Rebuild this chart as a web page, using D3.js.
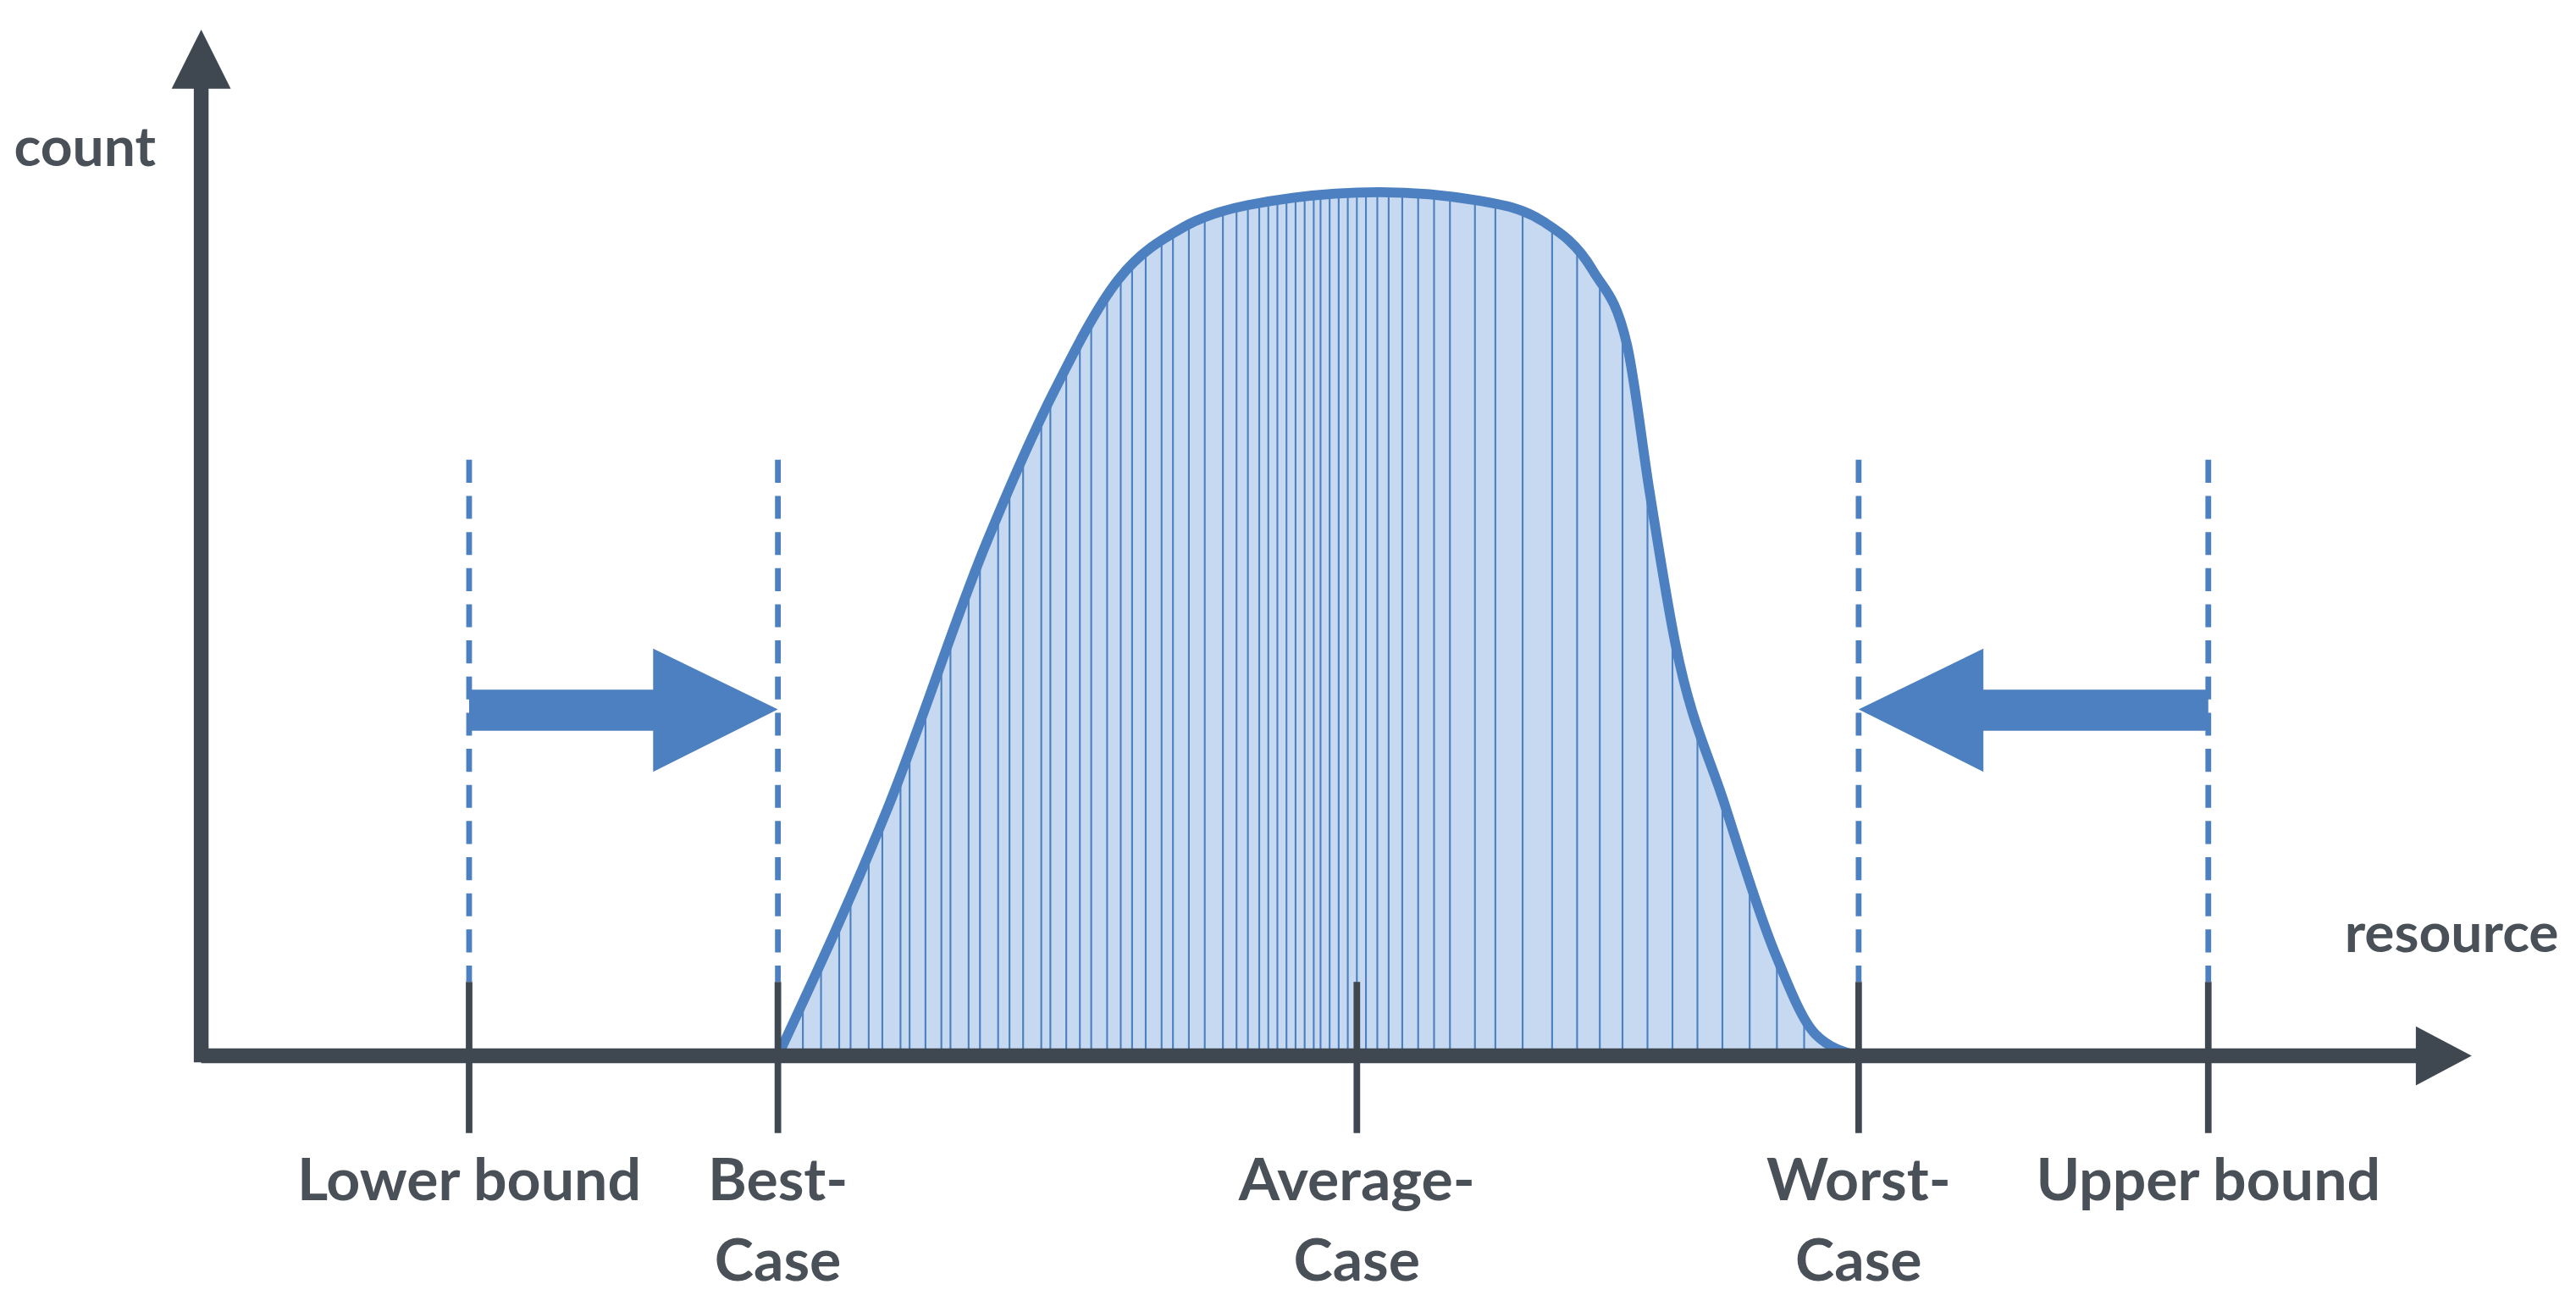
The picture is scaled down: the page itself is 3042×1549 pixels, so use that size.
<!DOCTYPE html>
<html><head><meta charset="utf-8">
<script src="https://cdn.jsdelivr.net/npm/d3@7"></script>
<style>html,body{margin:0;background:#fff;overflow:hidden}</style>
</head><body>
<script>
// resource positions (0-100) and counts (0-100)
const curveX = [25.4,30.3,34.6,37.5,40.4,43.3,46.1,51.9,56.3,59.1,61.3,62.8,63.8,64.9,67.1,69.3,71.1,73.0];
const curveY = [0,29.1,59.5,76.6,89.9,96,98.5,100,99,96.6,90.9,82.3,65.2,48.1,29.1,12,2.5,0];
const tickNames = [["Lower bound"],["Best-","Case"],["Average-","Case"],["Worst-","Case"],["Upper bound"]];
const tickPos = [11.8,25.4,50.9,73.0,88.4];
const boundPos = [11.8,25.4,73.0,88.4];
const hatchPos = [26.5,27.3,28.1,28.6,29.4,30.0,30.8,31.2,31.9,32.6,33.0,33.8,34.3,35.1,35.6,36.2,37.0,37.4,38.1,38.7,39.2,39.9,40.5,41.0,41.6,42.3,42.8,43.5,44.2,45.0,45.6,46.1,46.6,47.0,47.4,47.8,48.2,48.6,49.0,49.3,49.7,50.1,50.5,50.9,51.3,51.8,52.3,52.9,53.6,54.3,55.0,56.1,57.0,58.2,59.5,60.6,61.6,62.6,63.7,64.8,65.9,67.0,68.2,69.4,70.6];
const arrowRight = {from:11.8,to:25.4};
const arrowLeft = {from:88.4,to:73.0};

const W=1568,H=799;
const svg=d3.select("body").append("svg").attr("width",3042).attr("height",1549).attr("viewBox",`0 0 ${W} ${H}`);
const x=d3.scaleLinear().domain([0,100]).range([122,1505]);
const y=d3.scaleLinear().domain([0,100]).range([643,117]);
const dark="#3f4750", blue="#4d80c1", txt="#4a5058";
const font="'Lato','Open Sans',sans-serif";
const pts=curveX.map((v,i)=>[v,curveY[i]]);
const area=d3.area().x(d=>x(d[0])).y0(y(0)).y1(d=>y(d[1])).curve(d3.curveMonotoneX);
const line=d3.line().x(d=>x(d[0])).y(d=>y(d[1])).curve(d3.curveMonotoneX);
svg.append("clipPath").attr("id","cp").append("path").attr("d",area(pts));
svg.append("path").attr("d",area(pts)).attr("fill","#c7d9f0");
svg.append("g").attr("clip-path","url(#cp)").selectAll("line").data(hatchPos).join("line")
 .attr("x1",d=>x(d)).attr("x2",d=>x(d)).attr("y1",y(0)).attr("y2",y(105)).attr("stroke",blue).attr("stroke-width",1.1);
svg.append("path").attr("d",line(pts)).attr("fill","none").attr("stroke",blue).attr("stroke-width",6);
// dashed bounds
svg.selectAll(".db").data(boundPos).join("line").attr("x1",d=>x(d)).attr("x2",d=>x(d))
 .attr("y1",280).attr("y2",598).attr("stroke",blue).attr("stroke-width",3.5).attr("stroke-dasharray","14,8");
// ticks
svg.selectAll(".tk").data(tickPos).join("line").attr("x1",d=>x(d)).attr("x2",d=>x(d))
 .attr("y1",598).attr("y2",690).attr("stroke",dark).attr("stroke-width",4);
// axes
svg.append("line").attr("x1",122).attr("x2",x(100)-25).attr("y1",643).attr("y2",643).attr("stroke",dark).attr("stroke-width",9);
svg.append("path").attr("d",`M${x(100)},643 L${x(100)-34},625 L${x(100)-34},661 Z`).attr("fill",dark);
svg.append("line").attr("x1",122).attr("x2",122).attr("y1",647).attr("y2",45).attr("stroke",dark).attr("stroke-width",9);
svg.append("path").attr("d",`M122,18 L104,54 L140,54 Z`).attr("fill",dark);
// arrows
function arrow(a){
  const x0=x(a.from),x1=x(a.to),dir=Math.sign(x1-x0),hx=x1-dir*76;
  return `M${x0},420 L${hx},420 L${hx},395 L${x1},432 L${hx},470 L${hx},445 L${x0},445 Z`;
}
svg.append("path").attr("d",arrow(arrowRight)).attr("fill",blue);
svg.append("path").attr("d",arrow(arrowLeft)).attr("fill",blue);
// labels
svg.append("text").attr("x",8).attr("y",101).text("count").attr("font-family",font).attr("font-weight",700).attr("font-size",34).attr("fill",txt);
svg.append("text").attr("x",1558).attr("y",580).attr("text-anchor","end").text("resource").attr("font-family",font).attr("font-weight",700).attr("font-size",34).attr("fill",txt);
tickNames.forEach((lines,i)=>{
  const t=svg.append("text").attr("x",x(tickPos[i])).attr("text-anchor","middle").attr("font-family",font).attr("font-weight",700).attr("font-size",36).attr("fill",txt);
  lines.forEach((s,j)=>t.append("tspan").attr("x",x(tickPos[i])).attr("y",731+j*49).text(s));
});
</script>
</body></html>
